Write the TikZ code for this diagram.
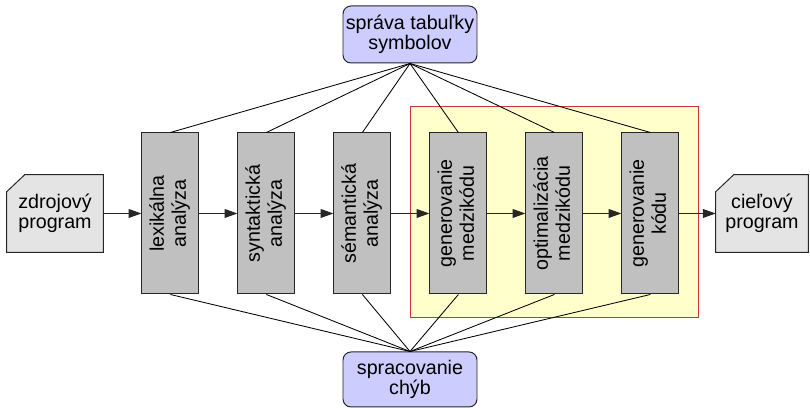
\documentclass[tikz,border=0pt]{standalone}
\usepackage{fontspec}
\setmainfont{Liberation Sans}
\usepackage{graphicx}
\usepackage{xcolor}
\usetikzlibrary{arrows.meta,backgrounds}
\definecolor{phasegray}{HTML}{C0C0C0}
\definecolor{lavender}{HTML}{CCCCFF}
\definecolor{docgray}{HTML}{E4E4E4}
\definecolor{paleyellow}{HTML}{FFFFCC}
\definecolor{regionred}{HTML}{CC3333}
\newcommand{\vtext}[1]{\rotatebox{90}{\renewcommand{\arraystretch}{1.14}\begin{tabular}{@{}c@{}}#1\end{tabular}}}

\begin{document}
\begin{tikzpicture}[
    font=\fontsize{14}{13.8}\selectfont,
    phase/.style={rectangle, draw=black!85, fill=phasegray, line width=0.7pt, minimum width=1.425cm, minimum height=4.025cm, inner sep=0pt},
    doc/.style={rectangle, minimum height=1.925cm, inner sep=0pt, align=center},
    docline/.style={draw=black!85, fill=docgray, line width=0.7pt},
    service/.style={rectangle, draw=black!85, fill=lavender, rounded corners=0.2cm, line width=0.7pt, minimum width=3.35cm, align=center, inner sep=0pt},
    region/.style={rectangle, draw=regionred, fill=paleyellow, line width=0.7pt, minimum width=7.2cm, minimum height=5.275cm},
    arrow/.style={-{Triangle[length=0.32cm,width=0.22cm]}, line width=0.7pt, draw=black!85},
    link/.style={line width=0.6pt, draw=black}
]
    \useasboundingbox (0,0) rectangle (20.25,10.2);
    \node[region] (backend) at (13.85,4.8875) {};

    \node[doc, minimum width=2.4cm] (src) at (1.375,4.8625) {zdrojový\\program};
    \node[doc, minimum width=2.3cm] (dst) at (19.05,4.8625) {cieľový\\program};
    % document outlines with the cut corner
    \begin{scope}[on background layer]
        \filldraw[docline] ([xshift=0.45cm]src.north west) -- (src.north east) -- (src.south east) -- (src.south west) -- ([yshift=-0.425cm]src.north west) -- cycle;
        \filldraw[docline] ([xshift=0.45cm]dst.north west) -- (dst.north east) -- (dst.south east) -- (dst.south west) -- ([yshift=-0.425cm]dst.north west) -- cycle;
    \end{scope}

    \node[phase] (lex) at (4.26,4.8625) {\vtext{lexikálna\\analýza}};
    \node[phase] (syn) at (6.66,4.8625) {\vtext{syntaktická\\analýza}};
    \node[phase] (sem) at (9.06,4.8625) {\vtext{sémantická\\analýza}};
    \node[phase] (mid) at (11.46,4.8625) {\vtext{generovanie\\medzikódu}};
    \node[phase] (opt) at (13.86,4.8625) {\vtext{optimalizácia\\medzikódu}};
    \node[phase] (gen) at (16.26,4.8625) {\vtext{generovanie\\kódu}};

    \node[service, minimum height=1.425cm] (sym) at (10.25,9.3375) {správa tabuľky\\symbolov};
    \node[service, minimum height=1.375cm] (err) at (10.25,0.7125) {spracovanie\\chýb};

    \draw[arrow] (src) -- (lex);
    \draw[arrow] (lex) -- (syn);
    \draw[arrow] (syn) -- (sem);
    \draw[arrow] (sem) -- (mid);
    \draw[arrow] (mid) -- (opt);
    \draw[arrow] (opt) -- (gen);
    \draw[arrow] (gen) -- (dst);

    \foreach \p in {lex,syn,sem,mid,opt,gen} {
        \draw[link] (sym.south) -- (\p.north);
        \draw[link] (\p.south) -- (err.north);
    }
\end{tikzpicture}
\end{document}
